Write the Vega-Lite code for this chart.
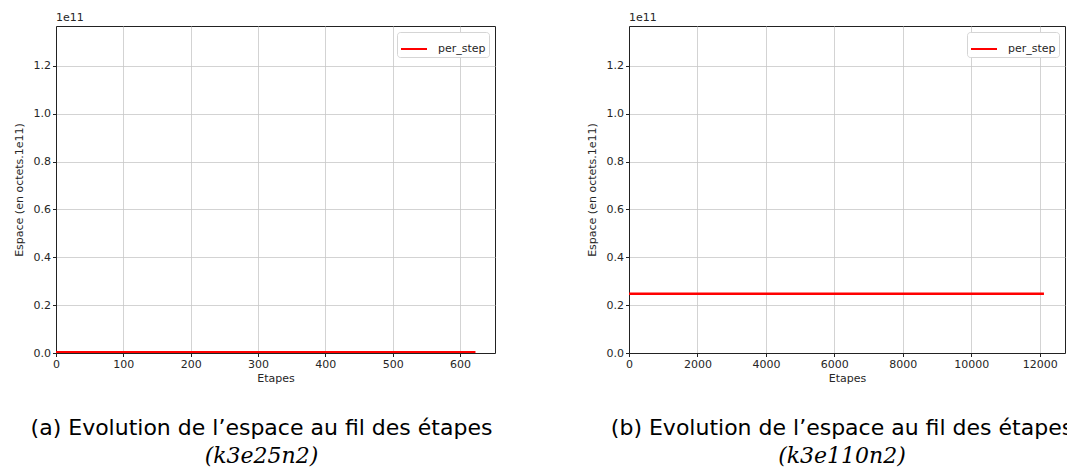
{
  "$schema": "https://vega.github.io/schema/vega-lite/v6.json",
  "background": "white",
  "padding": {"left": 12, "top": 11, "right": 0, "bottom": 0},
  "spacing": 89,
  "config": {
    "font": "DejaVu Sans",
    "view": {"stroke": "#222222", "strokeWidth": 1},
    "axis": {
      "labelFont": "DejaVu Sans", "labelFontSize": 11, "labelColor": "#262626",
      "titleFont": "DejaVu Sans", "titleFontSize": 11, "titleFontWeight": "normal", "titleColor": "#262626",
      "gridColor": "#c8c8c8", "gridWidth": 0.8, "domainColor": "#222222", "tickColor": "#222222",
      "tickSize": 3.5, "labelPadding": 2, "titlePadding": 9, "labelFlush": false
    },
    "axisX": {"titlePadding": 3},
    "title": {
      "orient": "bottom", "anchor": "middle", "frame": "group",
      "font": "DejaVu Sans", "fontSize": 22, "fontWeight": "normal", "color": "#000000", "offset": 34,
      "subtitleFont": "DejaVu Serif", "subtitleFontSize": 22, "subtitleFontStyle": "italic",
      "subtitleColor": "#000000", "subtitlePadding": 6
    },
    "legend": {
      "orient": "top-right", "offset": 6, "fillColor": "white", "strokeColor": "#d5d5d5",
      "cornerRadius": 3, "padding": 3, "symbolType": "stroke", "symbolStrokeWidth": 2,
      "symbolSize": 676, "labelFont": "DejaVu Sans", "labelFontSize": 11, "labelColor": "#262626",
      "labelOffset": 10
    }
  },
  "hconcat": [
    {
      "width": 439,
      "height": 327,
      "title": {"text": "(a) Evolution de l’espace au fil des étapes", "subtitle": "(k3e25n2)", "dx": -14},
      "layer": [
        {
          "data": {"values": [
            {"etape": 0, "espace": 0.0035, "serie": "per_step"},
            {"etape": 100, "espace": 0.0035, "serie": "per_step"},
            {"etape": 200, "espace": 0.0035, "serie": "per_step"},
            {"etape": 300, "espace": 0.0035, "serie": "per_step"},
            {"etape": 400, "espace": 0.0035, "serie": "per_step"},
            {"etape": 500, "espace": 0.0035, "serie": "per_step"},
            {"etape": 600, "espace": 0.0035, "serie": "per_step"},
            {"etape": 623, "espace": 0.0035, "serie": "per_step"}
          ]},
          "mark": {"type": "line", "strokeWidth": 2.5, "clip": true},
          "encoding": {
            "x": {"field": "etape", "type": "quantitative",
                  "scale": {"domain": [0, 652], "nice": false, "zero": false},
                  "axis": {"title": "Etapes", "values": [0, 100, 200, 300, 400, 500, 600], "format": "d"}},
            "y": {"field": "espace", "type": "quantitative",
                  "scale": {"domain": [0, 1.367], "nice": false},
                  "axis": {"title": "Espace (en octets.1e11)", "values": [0, 0.2, 0.4, 0.6, 0.8, 1.0, 1.2], "format": ".1f"}},
            "color": {"field": "serie", "type": "nominal",
                      "scale": {"domain": ["per_step"], "range": ["#ff0000"]},
                      "legend": {"title": null}}
          }
        },
        {
          "data": {"values": [{"label": "1e11", "etape": 0, "espace": 1.367}]},
          "mark": {"type": "text", "align": "left", "baseline": "bottom", "dy": -3, "font": "DejaVu Sans", "fontSize": 11, "color": "#262626"},
          "encoding": {
            "x": {"field": "etape", "type": "quantitative"},
            "y": {"field": "espace", "type": "quantitative"},
            "text": {"field": "label"}
          }
        }
      ]
    },
    {
      "width": 436,
      "height": 327,
      "title": {"text": "(b) Evolution de l’espace au fil des étapes", "subtitle": "(k3e110n2)", "dx": -5},
      "layer": [
        {
          "data": {"values": [
            {"etape": 0, "espace": 0.248, "serie": "per_step"},
            {"etape": 2000, "espace": 0.248, "serie": "per_step"},
            {"etape": 4000, "espace": 0.248, "serie": "per_step"},
            {"etape": 6000, "espace": 0.248, "serie": "per_step"},
            {"etape": 8000, "espace": 0.248, "serie": "per_step"},
            {"etape": 10000, "espace": 0.248, "serie": "per_step"},
            {"etape": 12000, "espace": 0.248, "serie": "per_step"},
            {"etape": 12125, "espace": 0.248, "serie": "per_step"}
          ]},
          "mark": {"type": "line", "strokeWidth": 2.5, "clip": true},
          "encoding": {
            "x": {"field": "etape", "type": "quantitative",
                  "scale": {"domain": [0, 12740], "nice": false, "zero": false},
                  "axis": {"title": "Etapes", "values": [0, 2000, 4000, 6000, 8000, 10000, 12000], "format": "d"}},
            "y": {"field": "espace", "type": "quantitative",
                  "scale": {"domain": [0, 1.367], "nice": false},
                  "axis": {"title": "Espace (en octets.1e11)", "values": [0, 0.2, 0.4, 0.6, 0.8, 1.0, 1.2], "format": ".1f"}},
            "color": {"field": "serie", "type": "nominal",
                      "scale": {"domain": ["per_step"], "range": ["#ff0000"]},
                      "legend": {"title": null}}
          }
        },
        {
          "data": {"values": [{"label": "1e11", "etape": 0, "espace": 1.367}]},
          "mark": {"type": "text", "align": "left", "baseline": "bottom", "dy": -3, "font": "DejaVu Sans", "fontSize": 11, "color": "#262626"},
          "encoding": {
            "x": {"field": "etape", "type": "quantitative"},
            "y": {"field": "espace", "type": "quantitative"},
            "text": {"field": "label"}
          }
        }
      ]
    }
  ],
  "resolve": {"scale": {"color": "independent"}, "legend": {"color": "independent"}}
}
